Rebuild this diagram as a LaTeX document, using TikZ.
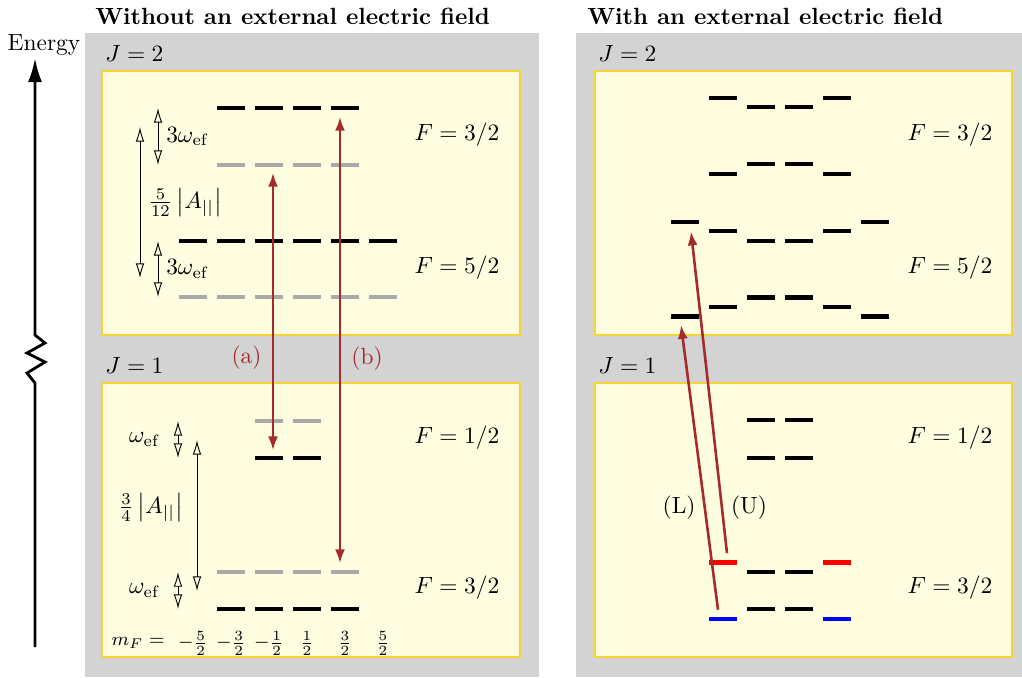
\documentclass[tikz,border=0pt]{standalone}
\usepackage{amsmath}
\usepackage{xcolor}
\usepackage{tikz}
\usetikzlibrary{arrows.meta,calc}
\definecolor{PanelGray}{HTML}{D3D3D3}
\definecolor{BoxFill}{HTML}{FEFDE0}
\definecolor{BoxLine}{HTML}{F7D337}
\definecolor{LevelGray}{HTML}{A9A9A9}
\definecolor{Trans}{HTML}{A52A2A}

\begin{document}
\begin{tikzpicture}[
  x=.15mm, y=-.15mm,
  panel/.style={fill=PanelGray},
  box/.style={fill=BoxFill, draw=BoxLine, line width=.5pt},
  lvl/.style={rectangle, fill=black, minimum width=4.2mm, minimum height=.7mm,
    inner sep=0pt, outer sep=0pt},
  lvlgray/.style={lvl, fill=LevelGray},
  lvlred/.style={lvl, fill=red},
  lvlblue/.style={lvl, fill=blue},
  dim/.style={{Latex[open,length=2.2mm,width=1.3mm]}-{Latex[open,length=2.2mm,width=1.3mm]},
    line width=.4pt},
  trans/.style={-{Latex[length=2.1mm,width=1.5mm]}, line width=1.1pt, draw=Trans},
  transboth/.style={trans, {Latex[length=2.1mm,width=1.5mm]}-{Latex[length=2.1mm,width=1.5mm]}},
  energy/.style={-{Latex[length=3.6mm,width=2.1mm]}, line width=1.2pt},
  title/.style={anchor=west, font=\bfseries},
  jlabel/.style={anchor=west}
]
\useasboundingbox (0,0) rectangle (1022,677);

% Grey panels and the yellow J boxes.
\fill[panel] (85,33) rectangle (539,677);
\fill[panel] (576,33) rectangle (1022,677);
\draw[box] (102,71) rectangle (520,335);
\draw[box] (102,383) rectangle (520,657);
\draw[box] (595,71) rectangle (1012,335);
\draw[box] (595,383) rectangle (1012,657);

\node[title] (titleL) at (87,16) {Without an external electric field};
\node[title] (titleR) at (579,16) {With an external electric field};
\node[jlabel] (jL2) at (97,53) {$J=2$};
\node[jlabel] (jL1) at (97,365) {$J=1$};
\node[jlabel] (jR2) at (590,53) {$J=2$};
\node[jlabel] (jR1) at (590,365) {$J=1$};

% Energy axis with a break.
\node (energy) at (44,45) {Energy};
\draw[energy] (35,647) -- (35,383) -- (27,373) -- (45,362) -- (27,353) -- (45,343)
  -- (35,335) -- (35,58);

% Left: levels without the field (grey = before the omega_ef shift).
\foreach \i in {2,...,5} {
  \node[lvl] (a32-\i) at ({155+38*\i},108) {};
  \node[lvlgray] (a32g-\i) at ({155+38*\i},165) {};
  \node[lvlgray] (b32g-\i) at ({155+38*\i},572) {};
  \node[lvl] (b32-\i) at ({155+38*\i},609) {};
}
\foreach \i in {1,...,6} {
  \node[lvl] (a52-\i) at ({155+38*\i},241) {};
  \node[lvlgray] (a52g-\i) at ({155+38*\i},297) {};
}
\foreach \i in {3,4} {
  \node[lvlgray] (b12g-\i) at ({155+38*\i},421) {};
  \node[lvl] (b12-\i) at ({155+38*\i},458) {};
}

\node (fa32) at (457,135) {$F=3/2$};
\node (fa52) at (457,268) {$F=5/2$};
\node (fb12) at (457,438) {$F=1/2$};
\node (fb32) at (457,588) {$F=3/2$};

% Splittings.
\coordinate (dimA) at (158,0);
\coordinate (dimC) at (178,0);
\draw[dim] (dimA |- a32-2) -- node[right]{$3\omega_{\mathrm{ef}}$} (dimA |- a32g-2);
\draw[dim] (dimA |- a52-1) -- node[right]{$3\omega_{\mathrm{ef}}$} (dimA |- a52g-1);
\draw[dim] (140,127) -- node[right]{$\frac{5}{12}\left|A_{||}\right|$} (140,278);
\draw[dim] (dimC |- b12g-3) -- node[left=4pt]{$\omega_{\mathrm{ef}}$} (dimC |- b12-3);
\draw[dim] (dimC |- b32g-2) -- node[left=4pt]{$\omega_{\mathrm{ef}}$} (dimC |- b32-2);
\draw[dim] (197,440) -- node[pos=.45, left=2.5pt]{$\frac{3}{4}\left|A_{||}\right|$} (197,591);

% m_F row.
\node[font=\footnotesize] (mF) at (138,643) {$m_F =$};
\foreach \i/\m in {1/-\frac{5}{2}, 2/-\frac{3}{2}, 3/-\frac{1}{2}, 4/\frac{1}{2}, 5/\frac{3}{2}, 6/\frac{5}{2}}
  \node[font=\footnotesize] (mF-\i) at ({155+38*\i},643) {$\m$};

% Transitions (a) and (b).
\draw[transboth, shorten <=.8mm, shorten >=.8mm] ([xshift=.6mm]b12-3.north) --
  node[pos=.34, left=1pt, text=Trans]{(a)} ([xshift=.6mm]a32g-3.south);
\draw[transboth, shorten <=.95mm, shorten >=.95mm] ([xshift=-.75mm]b32g-5.north) --
  node[pos=.46, right=1pt, text=Trans]{(b)} ([xshift=-.75mm]a32-5.south);

% Right: Stark-shifted levels.
\foreach \i/\yu/\yl in {2/98/174, 3/107/164, 4/107/164, 5/98/174} {
  \node[lvl] (c32u-\i) at ({647+38*\i},\yu) {};
  \node[lvl] (c32l-\i) at ({647+38*\i},\yl) {};
}
\foreach \i/\yu/\yl in {1/222/316.5, 2/231/307, 3/241/297.5, 4/241/297.5, 5/231/307, 6/222/316.5} {
  \node[lvl] (c52u-\i) at ({647+38*\i},\yu) {};
  \node[lvl] (c52l-\i) at ({647+38*\i},\yl) {};
}
\foreach \i in {3,4} {
  \node[lvl] (d12u-\i) at ({647+38*\i},420) {};
  \node[lvl] (d12l-\i) at ({647+38*\i},458) {};
  \node[lvl] (d32u-\i) at ({647+38*\i},572) {};
  \node[lvl] (d32l-\i) at ({647+38*\i},609) {};
}
\foreach \i in {2,5} {
  \node[lvlred] (d32u-\i) at ({647+38*\i},562.5) {};
  \node[lvlblue] (d32l-\i) at ({647+38*\i},619) {};
}

\node (fc32) at (950,135) {$F=3/2$};
\node (fc52) at (950,268) {$F=5/2$};
\node (fd12) at (950,438) {$F=1/2$};
\node (fd32) at (950,588) {$F=3/2$};

% Transitions (L) and (U).
\draw[trans] ($(d32l-2.north)+(-5,-7)$) -- node[pos=.36, left]{(L)} ($(c52l-1.south)+(-4,6)$);
\draw[trans] ($(d32u-2.north)+(4,-7)$) -- node[pos=.14, right]{(U)} ($(c52u-1.south)+(6,7)$);
\end{tikzpicture}
\end{document}
